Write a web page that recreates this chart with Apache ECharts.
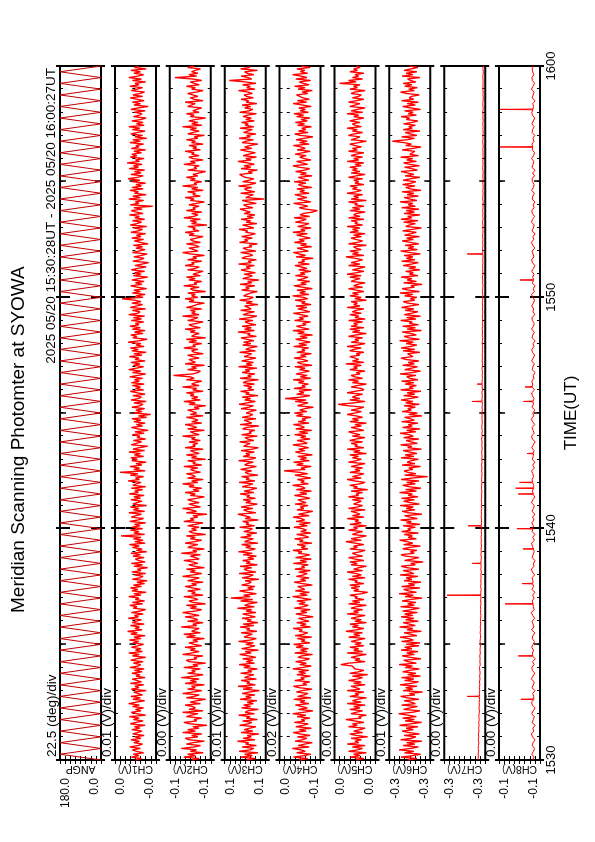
<!DOCTYPE html>
<html><head><meta charset="utf-8">
<script src="https://cdn.jsdelivr.net/npm/echarts@6/dist/echarts.min.js"></script>
<style>
html,body{margin:0;padding:0;background:#fff;width:595px;height:842px;overflow:hidden}
#chart{position:absolute;left:0;top:0;width:842px;height:595px;transform-origin:0 0;transform:translate(0,842px) rotate(-90deg);background:#fff}
</style></head><body><div id="chart"></div>
<script>
const mainTitle = 'Meridian Scanning Photomter at SYOWA';
const subTitle = '2025 05/20 15:30:28UT - 2025 05/20 16:00:27UT';
const timeAxisName = 'TIME(UT)';
const timeLabels = ['1530','1540','1550','1600'];
const panelNames = ['ANGP','CH1(V)','CH2(V)','CH3(V)','CH4(V)','CH5(V)','CH6(V)','CH7(V)','CH8(V)'];
const scaleLabels = ['22.5 (deg)/div','0.01 (V)/div','0.00 (V)/div','0.01 (V)/div','0.02 (V)/div','0.00 (V)/div','0.01 (V)/div','0.00 (V)/div','0.00 (V)/div'];
// axis ranges: ANGP in deg, channels in mV
const yMin = [0,-40,-140,60,-120,4,-340,-332,-132];
const yMax = [180,40,-108,140,40,36,-260,-300,-100];
const angpStepMin = 0.25;     // minutes between ANGP turning points
const fastStepMin = 0.0625;   // minutes between CH1-CH6 samples
const slowStepMin = 0.125;    // minutes between CH7-CH8 samples

const angp = [0,180,0,180,0,180,0,180,0,180,0,180,0,180,0,180,0,180,0,180,
0,180,0,180,0,180,0,180,0,180,0,180,0,180,0,180,0,180,0,180,
0,180,0,180,0,180,0,180,0,180,0,180,0,180,0,180,0,180,0,180,
0,180,0,180,0,180,0,180,0,180,0,180,0,180,0,180,0,180,0,180,
0,180,0,180,0,180,0,180,0,180,0,180,0,180,0,180,0,180,0,180,
0,180,0,180,0,180,0,180,0,180,0,180,0,180,0,180,0,180,0,180,0];

const ch1 = [0,-12,8,-7,4,-16,-2,6,-10,11,-5,-14,3,-8,9,-11,1,-17,5,-4,
-13,7,-9,2,-19,10,-1,-15,4,-7,12,-20,-3,8,-11,0,-16,6,-8,13,
-2,-18,5,-10,9,-14,-5,3,-21,8,-7,1,-16,10,-12,-3,6,-19,-1,-9,
7,-13,2,-17,11,-6,-10,4,-15,9,-2,-20,6,-8,13,-14,0,-11,8,-5,
-16,5,-7,12,-11,3,-19,9,-4,15,-13,1,-8,10,-17,6,-2,-12,14,-6,
2,-15,8,-9,-20,4,-3,11,-14,6,-18,0,-7,13,-11,3,-21,7,-5,10,
-12,4,-18,-3,-23,6,-9,-15,2,-20,7,-11,-4,-24,3,-14,8,-19,-6,0,
-17,5,-10,9,-22,-2,-13,6,-8,12,-19,1,-15,4,-11,28,-18,3,-7,10,
-14,7,-9,2,-20,11,-5,-16,8,-1,-12,13,-18,4,-7,10,-22,5,-3,-13,
9,-10,3,-17,12,-6,1,-14,8,-20,5,-2,-11,14,-8,0,-16,10,-5,30,
-19,3,-8,11,-13,-1,-21,7,-4,9,-16,2,-10,13,-18,5,-7,-24,8,-2,
-12,4,-20,-3,-9,6,-17,1,-25,-5,8,-14,-2,-19,3,-11,7,-22,-6,-30,
4,-13,-1,-18,7,-9,-15,3,-21,9,-6,-12,5,-19,-3,10,-16,0,-10,6,
-17,8,-8,2,-14,11,-5,-20,6,-11,13,-2,-16,4,-9,9,-19,1,-7,12,
-13,3,-21,7,-6,10,-17,-1,-11,14,-8,-23,5,-3,9,-15,2,-19,6,-10,
11,-7,0,-16,8,-12,4,-18,13,-5,-9,6,-20,10,-2,-14,7,-11,1,26,
-15,-1,-19,6,-10,3,-22,-4,9,-13,0,-17,7,-8,-24,4,-11,2,-18,8,
-4,-21,1,-13,-26,5,-9,-17,3,-12,-23,6,-7,-19,-1,-14,4,-25,-10,2,
-16,7,-11,-2,-20,9,-6,-14,4,-22,10,-3,-12,6,-18,1,-8,12,-15,-1,
8,-13,3,-34,10,-7,0,-16,13,-10,5,-21,2,-6,11,-15,7,-12,-1,-20,
6,-9,14,-4,-15,9,-11,2,-18,12,-6,4,-13,16,-8,0,-17,10,-3,7,
-12,3,-20,8,-7,-1,-16,11,-10,5,-22,1,-14,9,-4,-19,6,-9,13,-17,
-2,-15,7,-11,-21,4,-8,-13,2,-19,9,-5,-25,3,-10,6,-17,-3,10,-14,
5,-9,-18,8,-3,-14,11,-7,1,-20,6,-12,13,-5,-16,3,-10,9,-21,2,
-6];

const ch2 = [-125,-131,-119,-128,-122,-134,-124,-129,-117,-127,-132,-121,-126,-135,-123,-120,-130,-125,-133,-118,
-128,-122,-131,-126,-137,-124,-119,-129,-127,-133,-121,-125,-130,-118,-134,-123,-128,-126,-120,-132,
-124,-129,-136,-121,-127,-131,-118,-126,-133,-122,-128,-125,-135,-120,-129,-124,-131,-117,-127,-134,
-122,-128,-125,-132,-119,-130,-126,-136,-123,-121,-129,-127,-134,-118,-125,-131,-124,-128,-120,-133,
-127,-123,-130,-126,-135,-121,-128,-119,-132,-125,-124,-131,-117,-129,-126,-134,-122,-130,-127,-120,
-131,-125,-118,-128,-133,-124,-129,-121,-136,-126,-123,-130,-127,-119,-134,-125,-128,-122,-132,-126,
-120,-129,-125,-134,-122,-127,-131,-118,-126,-133,-124,-128,-121,-135,-127,-123,-130,-126,-119,-131,
-128,-124,-132,-117,-129,-126,-135,-122,-125,-130,-120,-127,-133,-124,-128,-121,-136,-126,-123,-129,
-125,-131,-122,-128,-134,-119,-127,-124,-130,-126,-137,-121,-129,-125,-118,-132,-127,-123,-131,-126,
-122,-129,-135,-124,-128,-120,-131,-126,-133,-123,-127,-118,-130,-125,-134,-122,-128,-126,-121,-132,
-127,-124,-130,-119,-133,-126,-128,-122,-136,-125,-129,-121,-131,-127,-124,-134,-120,-128,-126,-130,
-123,-132,-125,-128,-118,-131,-127,-124,-135,-122,-129,-126,-120,-133,-125,-130,-127,-121,-134,-124,
-129,-126,-122,-131,-127,-136,-123,-128,-119,-132,-125,-130,-124,-127,-121,-134,-126,-129,-118,-131,
-125,-128,-133,-121,-127,-124,-111,-126,-130,-132,-122,-129,-125,-135,-120,-128,-127,-123,-131,-126,
-122,-134,-127,-125,-130,-119,-128,-126,-133,-123,-129,-121,-136,-125,-127,-131,-124,-128,-120,-132,
-126,-123,-129,-134,-122,-127,-130,-118,-131,-125,-128,-124,-133,-121,-126,-129,-135,-123,-127,-120,
-130,-125,-128,-122,-136,-126,-124,-131,-119,-129,-127,-133,-123,-128,-121,-132,-126,-125,-134,-122,
-128,-131,-120,-127,-125,-133,-122,-129,-126,-135,-124,-118,-130,-127,-123,-131,-128,-121,-132,-126,
-124,-129,-134,-123,-127,-120,-131,-126,-128,-122,-137,-125,-129,-124,-132,-119,-127,-130,-125,-133,
-121,-128,-126,-131,-123,-129,-135,-124,-127,-120,-132,-126,-128,-122,-134,-125,-130,-118,-129,-127,
-133,-124,-128,-121,-130,-126,-125,-136,-122,-129,-127,-131,-119,-128,-124,-134,-126,-123,-131,-125,
-127,-120,-132,-126,-129,-123,-134,-125,-128,-121,-130,-127,-135,-122,-126,-131,-124,-129,-118,-133,
-125,-130,-123,-128,-136,-124,-127,-121,-131,-126,-129,-133,-122,-125,-128,-120,-134,-127,-124,-130,
-126,-122,-129,-134,-125,-128,-121,-131,-127,-124,-133,-126,-112,-129,-123,-130,-125,-128,-132,-122,
-127];

const ch3 = [97,80,109,86,101,75,112,90,83,106,78,99,93,115,81,104,88,96,73,108,
85,102,91,79,111,94,87,105,76,98,90,113,82,100,95,74,107,89,103,84,
96,77,110,88,99,81,106,92,72,104,86,114,80,97,91,108,78,101,94,83,
109,87,95,76,103,90,112,82,98,85,105,79,93,111,88,100,74,107,92,81,
99,84,113,89,78,102,95,86,108,77,97,91,110,83,104,75,96,88,106,80,
92,105,79,98,87,115,82,101,93,76,109,85,128,90,103,78,97,111,84,95,
81,107,94,88,100,73,106,91,84,112,79,96,102,87,110,76,98,90,105,83,
95,78,104,86,113,92,80,99,89,107,75,101,94,84,109,88,97,77,103,91,
86,111,82,98,93,105,74,100,90,87,114,79,96,103,85,108,92,76,99,89,
104,80,97,91,110,83,102,88,77,106,94,85,112,81,98,92,107,75,95,100,
87,109,93,78,101,96,84,113,89,79,104,91,99,82,108,86,74,103,97,90,
111,83,95,100,76,107,88,92,81,105,98,73,110,87,94,102,79,106,91,85,
98,90,78,108,93,84,112,96,80,101,89,106,75,99,92,109,83,95,87,103,
82,104,97,74,110,88,95,81,106,91,100,77,113,86,98,84,107,93,79,102,
94,87,111,80,99,92,76,105,89,103,83,97,108,78,95,90,114,82,101,88,
106,79,93,100,85,112,90,77,104,96,82,109,88,94,101,75,98,86,111,91,
84,103,97,89,76,107,92,99,81,110,87,95,73,105,93,86,102,80,96,108,
90,98,82,113,88,94,78,106,100,85,91,109,79,97,104,87,92,76,111,95,
101,86,107,91,80,99,95,112,83,93,105,77,98,89,108,84,96,81,102,90,
88,110,85,97,103,78,94,106,63,99,92,84,109,81,96,101,87,113,90,79,
105,92,83,100,97,111,86,94,76,108,89,102,82,95,114,88,99,78,104,93,
80,96,109,87,101,91,75,106,98,84,112,90,97,79,103,95,86,110,83,100,
94,107,82,99,88,104,96,78,111,92,85,101,89,106,77,98,93,108,84,97,
102,86,95,113,81,97,90,105,79,100,131,87,94,108,83,96,101,76,109,91,
93];

const ch4 = [-38,-70,-15,-55,-82,-27,-61,-44,-10,-76,-33,-58,-88,-21,-49,-67,-30,-80,-41,-13,
-64,-36,-85,-24,-52,-72,-18,-59,-45,-79,-29,-63,-11,-54,-90,-34,-69,-47,-22,-75,
-40,-60,-16,-83,-31,-56,-71,-26,-48,-87,-37,-14,-66,-51,-78,-20,-57,-43,-81,-28,
-62,-35,-74,-12,-50,-84,-39,-65,-23,-58,-77,-32,-46,-89,-19,-68,-42,-73,-25,-53,
-15,-79,-44,-60,-30,-86,-21,-55,-70,-37,-49,-13,-82,-41,-64,-27,-75,-52,-34,-91,
-57,-24,-67,-43,-80,-18,-53,-72,-36,-61,-28,-84,-47,-11,-69,-39,-77,-22,-59,-45,
-31,-88,-50,-17,-63,-42,-76,-26,-54,-68,-35,-81,-20,-58,-46,-73,-14,-66,-40,-85,
-23,-56,-78,-33,-48,-12,-71,-44,-62,-29,-87,-38,-52,-19,-74,-60,-27,-83,-42,-65,
-50,-16,-69,-37,-81,-25,-58,-45,-13,-76,-34,-63,-90,-28,-55,-41,-72,-21,-64,-47,
-32,-79,-54,-18,-67,-39,-85,-26,-60,-48,-11,-73,-43,-57,-30,-82,-51,-20,-70,-36,
22,-61,-44,-84,-27,-53,-15,-77,-40,-66,-31,-88,-49,-22,-59,-35,-74,-46,-12,-68,
-55,-29,-80,-42,-63,-19,-71,-37,-86,-24,-57,-45,-14,-75,-33,-62,-48,-83,-26,-52,
-18,-67,-39,-58,-92,-30,-49,-72,-21,-64,18,-44,-79,-27,-55,-36,-86,-16,-61,-47,
-73,-34,-56,-13,-82,-41,-68,-25,-50,-77,-38,-60,-20,-87,-45,-29,-71,-53,-17,-64,
-42,-85,-28,-59,-47,-74,-15,-66,-35,-80,-52,-23,-69,-40,-89,-31,-57,-12,-76,-48,
-26,-63,-50,-81,-19,-54,-37,-72,-44,-14,-78,-58,-32,-67,-24,-84,-46,-61,-21,-70,
-53,-11,-75,-39,-62,-28,-88,-49,-16,-65,-43,-79,-30,-56,-71,-22,-60,-41,-83,-35,
-68,-45,-20,-77,-33,-58,-47,-91,-25,-62,-38,-14,-73,-51,-29,-86,-42,-66,-18,-57,
-36,-80,-54,-27,-69,-12,-60,-43,-84,-31,-57,-75,-22,-48,-65,-17,-78,-40,-53,-89,
-108,-62,-37,-71,-49,-15,-82,-56,-30,-67,-44,-20,-76,-39,-58,-28,-86,-46,-34,-63,
-17,-74,-52,-33,-87,-41,-65,-23,-59,-78,-36,-12,-70,-48,-27,-83,-55,-39,-64,-21,
-50,-80,-29,-61,-45,-14,-76,-38,-68,-25,-57,-90,-42,-19,-72,-34,-63,-47,-85,-31,
-58,-22,-69,-43,-79,-27,-54,-16,-73,-40,-62,-35,-84,-49,-13,-66,-30,-77,-51,-44,
-26,-71,-48,-88,-32,-60,-19,-75,-53,-37,-82,-24,-67,-45,-11,-70,-41,-59,-28,-80,
-45];

const ch5 = [19,13,24,16,21,11,25,18,14,22,12,26,17,20,15,23,10,19,24,14,
21,16,12,25,18,22,13,20,27,15,17,11,23,19,14,24,16,21,12,26,
15,22,18,11,24,17,20,13,26,16,19,23,12,21,15,25,18,14,22,10,
24,17,13,20,19,22,31,25,12,20,16,23,18,11,26,14,21,17,24,13,
20,15,23,18,12,25,16,21,14,27,19,13,22,17,24,11,20,15,23,18,
12,26,17,21,14,23,19,11,25,16,22,13,20,18,24,15,10,21,17,23,
16,24,13,20,18,25,12,22,15,19,26,14,21,17,11,23,18,24,13,20,
25,14,19,22,16,12,24,18,21,13,20,27,15,23,17,11,22,19,14,25,
18,21,11,24,15,20,17,26,13,22,16,19,23,12,25,18,14,21,20,15,
22,13,25,17,19,14,23,10,21,18,24,16,12,20,26,15,22,17,13,24,
16,20,14,23,18,12,25,19,15,22,17,24,11,21,16,26,13,20,18,23,
14,24,19,12,22,16,21,25,13,18,23,15,20,11,24,17,22,14,19,26,
20,15,23,17,13,25,33,21,12,24,16,22,19,14,26,20,13,15,23,18,
11,22,17,25,14,20,23,16,19,12,24,18,21,15,27,13,22,17,20,24,
16,19,13,24,21,15,26,18,12,23,17,20,14,25,19,11,22,16,24,13,
23,18,21,14,25,12,20,17,24,15,22,19,13,26,16,21,18,23,11,20,
15,24,17,22,13,19,25,14,21,18,12,23,20,16,24,15,26,19,13,22,
21,12,25,16,23,18,14,20,27,13,22,17,24,15,19,21,11,25,18,14,
19,23,15,21,12,24,17,22,16,26,14,20,18,23,13,25,16,21,19,12,
24,16,22,13,20,18,25,11,23,17,21,14,26,19,15,22,18,24,13,20,
17,21,14,25,19,12,23,16,22,18,24,15,20,13,26,17,21,14,23,19,
13,25,18,22,15,20,24,17,11,23,19,16,25,21,14,22,18,26,15,20,
22,16,24,19,13,21,17,26,14,23,18,12,24,20,16,25,19,13,22,17,
15,23,20,12,24,18,21,16,32,19,25,14,22,17,20,13,24,18,21,16,
19];

const ch6 = [-296,-314,-283,-305,-321,-290,-308,-279,-301,-317,-287,-310,-294,-324,-282,-303,-312,-289,-319,-298,
-285,-307,-293,-316,-280,-302,-323,-291,-309,-286,-313,-297,-278,-305,-320,-288,-300,-315,-284,-311,
-303,-289,-318,-295,-282,-310,-299,-325,-287,-306,-292,-314,-281,-302,-317,-290,-308,-284,-321,-296,
-312,-286,-300,-319,-291,-305,-279,-313,-297,-288,-322,-301,-285,-309,-294,-316,-283,-304,-290,-318,
-293,-320,-284,-307,-298,-281,-314,-302,-289,-323,-295,-306,-280,-311,-299,-287,-317,-292,-308,-283,
-306,-290,-315,-286,-303,-319,-282,-309,-296,-312,-285,-301,-324,-291,-307,-279,-313,-297,-288,-320,
-284,-310,-297,-322,-289,-304,-293,-316,-281,-308,-300,-287,-318,-295,-283,-311,-302,-326,-290,-305,
-318,-292,-283,-309,-301,-314,-286,-299,-321,-288,-306,-295,-280,-313,-297,-305,-289,-317,-284,-302,
-296,-311,-287,-320,-294,-303,-282,-315,-300,-290,-324,-298,-285,-310,-293,-307,-281,-319,-301,-288,
-309,-284,-316,-297,-305,-280,-313,-292,-322,-299,-286,-311,-294,-318,-283,-304,-335,-290,-312,-296,
-289,-306,-298,-321,-285,-310,-295,-302,-317,-283,-308,-291,-314,-300,-287,-323,-296,-304,-282,-315,
-302,-293,-318,-288,-307,-299,-281,-312,-294,-320,-286,-305,-297,-316,-284,-309,-301,-290,-324,-298,
-315,-285,-303,-296,-311,-289,-319,-292,-306,-283,-300,-317,-288,-310,-295,-322,-282,-307,-299,-313,
-291,-308,-284,-316,-300,-294,-312,-281,-305,-321,-290,-303,-315,-286,-309,-297,-318,-293,-283,-306,
-304,-296,-320,-287,-310,-283,-301,-314,-293,-307,-280,-319,-298,-289,-313,-302,-285,-323,-295,-311,
-286,-317,-299,-305,-282,-312,-294,-321,-289,-303,-316,-291,-308,-284,-300,-318,-296,-287,-310,-301,
-314,-290,-306,-281,-319,-297,-285,-309,-302,-324,-288,-313,-295,-304,-283,-316,-299,-307,-292,-320,
-298,-312,-287,-303,-317,-284,-310,-293,-306,-289,-321,-300,-282,-315,-297,-308,-291,-318,-301,-285,
-307,-294,-319,-290,-302,-313,-286,-305,-323,-292,-299,-311,-288,-316,-283,-304,-296,-320,-289,-309,
-293,-318,-284,-311,-297,-306,-281,-314,-300,-289,-317,-295,-308,-285,-322,-301,-292,-310,-286,-303,
-312,-287,-301,-320,-291,-308,-296,-283,-315,-304,-290,-319,-299,-288,-313,-294,-306,-282,-317,-300,
-297,-310,-285,-306,-322,-292,-303,-289,-266,-295,-309,-284,-314,-301,-291,-320,-287,-305,-298,-311,
-288,-305,-316,-293,-300,-283,-313,-297,-307,-290,-321,-302,-286,-311,-295,-317,-284,-308,-299,-303,
-319,-294,-282,-309,-298,-315,-290,-304,-287,-312,-301,-296,-320,-285,-306,-293,-314,-289,-302,-316,
-299];

const ch7 = [-326.4,-326.7,-326.5,-326.9,-326.6,-326.8,-327.1,-326.7,-327.0,-326.8,-327.2,-326.9,-327.3,-327.0,-327.4,-327.1,-327.3,-327.6,-327.2,-327.5,
-327.3,-327.7,-327.6,-327.5,-327.8,-327.4,-327.9,-327.6,-328.0,-327.7,-328.1,-327.8,-327.6,-328.2,-327.9,-328.1,-327.8,-328.3,-328.0,-328.2,
-328.4,-328.0,-328.3,-328.5,-328.1,-328.4,-328.2,-328.6,-328.3,-328.5,-328.7,-328.4,-328.6,-328.3,-328.8,-328.5,-328.7,-328.7,-328.6,-328.9,
-328.5,-328.8,-328.6,-328.9,-328.7,-329.0,-328.6,-328.9,-328.8,-328.8,-329.1,-328.7,-329.0,-328.8,-329.2,-328.9,-329.1,-328.8,-329.2,-329.0,
-329.2,-329.1,-329.1,-329.3,-328.9,-329.2,-329.0,-329.4,-329.1,-329.3,-329.0,-329.4,-329.2,-329.5,-329.1,-329.3,-329.5,-329.2,-329.4,-329.6,
-329.3,-329.5,-329.2,-329.6,-329.4,-329.7,-329.3,-329.5,-329.7,-329.4,-329.6,-329.3,-329.7,-329.5,-329.8,-329.4,-329.6,-329.8,-329.5,-329.7,
-329.5,-329.8,-329.6,-329.9,-329.7,-329.6,-329.8,-329.5,-329.9,-329.7,-329.7,-329.6,-329.9,-329.7,-330.0,-329.6,-329.8,-330.0,-329.7,-329.9,
-329.7,-330.0,-329.8,-330.1,-329.7,-329.9,-330.1,-329.8,-330.0,-329.7,-330.1,-329.9,-330.2,-329.8,-330.0,-330.2,-329.9,-330.1,-329.8,-330.2,
-330.0,-330.2,-329.9,-330.1,-330.3,-330.0,-330.2,-329.9,-330.3,-330.1,-330.2,-330.0,-330.3,-330.1,-330.4,-330.2,-330.2,-330.0,-330.3,-330.1,
-330.3,-330.0,-330.2,-330.4,-330.1,-330.3,-330.0,-330.4,-330.2,-330.3,-330.1,-330.4,-330.2,-330.5,-330.1,-330.3,-330.4,-330.2,-330.5,-330.3,
-330.1,-330.4,-330.2,-330.5,-330.3,-330.1,-330.4,-330.2,-330.5,-330.3,-330.4,-330.2,-330.5,-330.3,-330.1,-330.4,-330.2,-330.5,-330.3,-330.4,
-330.2,-330.5,-330.3,-330.4,-330.1,-330.5,-330.3,-330.2,-330.4,-330.6,-330.3,-330.5,-330.2,-330.4,-330.3,-330.5,-330.2,-330.4,-330.6,-330.3,
-330.4];
const ch7SpikeMin = [2.75, 7.125, 8.5, 10.125, 15.5, 16.25, 21.875];
const ch7SpikeVal = [-318.0, -302.3, -321.9, -318.7, -321.9, -325.8, -318.0];

const ch8 = [-126.2,-127.4,-125.6,-126.9,-127.8,-125.9,-126.6,-128.0,-126.1,-125.3,-127.2,-126.4,-128.3,-125.8,-126.9,-127.5,-125.5,-126.7,-128.1,-126.0,
-125.4,-127.1,-127.1,-126.3,-128.2,-125.7,-126.8,-127.6,-125.2,-126.5,-127.9,-126.0,-125.6,-127.3,-126.2,-128.4,-126.3,-126.1,-127.0,-125.5,
-126.8,-127.7,-125.9,-126.4,-128.0,-125.4,-127.2,-126.6,-125.8,-127.9,-126.3,-125.1,-127.5,-126.7,-126.6,-125.9,-127.4,-126.2,-128.1,-125.6,
-127.0,-126.4,-126.5,-125.7,-127.8,-126.1,-125.3,-127.3,-126.9,-128.2,-125.8,-126.6,-127.5,-126.9,-126.0,-125.4,-127.7,-126.3,-128.0,-125.9,
-126.5,-126.8,-125.6,-127.4,-126.2,-128.1,-125.7,-126.9,-127.6,-125.3,-126.5,-127.9,-126.8,-126.0,-127.0,-127.2,-126.2,-125.8,-127.0,-126.4,
-125.5,-127.7,-126.3,-128.0,-125.9,-126.7,-126.9,-127.3,-125.6,-126.8,-128.2,-126.1,-125.4,-127.5,-126.6,-125.8,-127.9,-126.2,-125.3,-127.1,
-126.4,-128.0,-125.7,-126.9,-126.6,-127.4,-126.0,-125.5,-127.8,-126.0,-126.3,-125.6,-127.2,-126.8,-128.1,-125.9,-126.5,-127.6,-125.4,-126.7,
-127.9,-126.1,-125.6,-127.3,-126.6,-128.2,-125.8,-126.4,-127.7,-125.3,-126.9,-127.5,-126.0,-125.7,-128.0,-126.5,-127.1,-125.5,-126.8,-127.8,
-126.2,-125.4,-127.6,-126.7,-128.1,-125.9,-127.0,-126.3,-127.4,-125.6,-126.9,-128.0,-126.1,-125.5,-127.2,-126.6,-125.8,-127.9,-126.4,-125.3,
-127.1,-126.5,-128.2,-125.7,-126.8,-127.5,-125.4,-126.2,-127.8,-126.0,-125.6,-127.3,-126.7,-128.0,-125.9,-126.4,-127.6,-125.5,-126.9,-127.4,
-126.1,-125.8,-127.7,-126.3,-128.1,-125.6,-126.6,-127.2,-125.4,-126.9,-127.8,-126.0,-126.3,-125.7,-127.3,-126.5,-128.0,-125.9,-126.2,-127.5,
-125.6,-126.8,-127.9,-126.1,-125.5,-126.5,-127.0,-126.4,-128.2,-125.8,-126.7,-127.4,-125.3,-126.5,-127.8,-126.0,-125.7,-127.2,-126.3,-125.9,
-126.6];
const ch8SpikeMin = [2.625, 4.5, 6.75, 7.625, 9.125, 10.0, 11.5, 11.75, 12.0, 13.25, 15.5, 16.125, 20.75, 26.5, 28.125];
const ch8SpikeVal = [-117.0, -115.0, -104.7, -118.0, -118.7, -114.0, -115.0, -113.0, -116.0, -121.9, -119.0, -120.3, -116.4, -100.8, -100.8];

// ---------- build series data ----------
const SPIKE_HALF_WIDTH = 0.015; // minutes
function uniform(vals, step) { return vals.map((v, k) => [k * step, v]); }
function withSpikes(vals, step, spikeMin, spikeVal) {
  const m = new Map(spikeMin.map((t, j) => [Math.round(t / step), spikeVal[j]]));
  const out = [];
  vals.forEach((v, k) => {
    const t = k * step;
    if (m.has(k)) { out.push([t - SPIKE_HALF_WIDTH, v], [t, m.get(k)], [t + SPIKE_HALF_WIDTH, v]); }
    else out.push([t, v]);
  });
  return out;
}
const panelData = [
  uniform(angp, angpStepMin),
  uniform(ch1, fastStepMin), uniform(ch2, fastStepMin), uniform(ch3, fastStepMin),
  uniform(ch4, fastStepMin), uniform(ch5, fastStepMin), uniform(ch6, fastStepMin),
  withSpikes(ch7, slowStepMin, ch7SpikeMin, ch7SpikeVal),
  withSpikes(ch8, slowStepMin, ch8SpikeMin, ch8SpikeVal)
];
const lineWidths = [1, 1.35, 1.35, 1.35, 1.35, 1.35, 1.35, 1, 1];

// ---------- layout / style ----------
const FONT = '"Liberation Sans", Arial, Helvetica, sans-serif';
const PL = 82, PW = 694, TOP0 = 60, PITCH = 54.875, PH = 41;
const BLACK = '#000';

const grids = [], xAxes = [], yAxes = [], series = [], titles = [], graphics = [];

titles.push({text: mainTitle, left: 229, top: 9, padding: 0,
  textStyle: {fontSize: 19, fontWeight: 'normal', fontFamily: FONT, color: BLACK, lineHeight: 19}});
titles.push({text: subTitle, right: 68, top: 45, padding: 0,
  textStyle: {fontSize: 13.5, fontWeight: 'normal', fontFamily: FONT, color: BLACK, lineHeight: 13.5}});
titles.push({text: timeAxisName, left: 429, textAlign: 'center', top: 563, padding: 0,
  textStyle: {fontSize: 17, fontWeight: 'normal', fontFamily: FONT, color: BLACK, lineHeight: 17}});

for (let i = 0; i < 9; i++) {
  const top = TOP0 + PITCH * i;
  const isLast = i === 8;
  grids.push({left: PL, width: PW, top: top, height: PH, show: true,
    borderColor: BLACK, borderWidth: 2, backgroundColor: 'transparent'});
  titles.push({text: scaleLabels[i], left: 85, top: top - 14.25, padding: 0,
    textStyle: {fontSize: 13.5, fontWeight: 'normal', fontFamily: FONT, color: BLACK, lineHeight: 13.5}});
  graphics.push({type: 'text', x: 73, y: top + PH / 2, rotation: Math.PI / 2, silent: true,
    style: {text: panelNames[i], fill: BLACK, font: '10.5px ' + FONT,
      align: 'center', verticalAlign: 'middle', textAlign: 'center', textVerticalAlign: 'middle'}});

  const xBase = {type: 'value', gridIndex: i, min: 0, max: 30,
    splitLine: {show: false}, axisLine: {show: false}, axisLabel: {show: false}};
  let mainX = -1;
  ['bottom', 'top'].forEach(pos => {
    const idx = xAxes.length;
    xAxes.push(Object.assign({}, xBase, {position: pos, interval: 10,
      axisTick: {show: true, inside: true, length: 10, lineStyle: {color: BLACK, width: 2}},
      minorTick: {show: true, splitNumber: 10, length: 3, lineStyle: {color: BLACK, width: 1}},
      axisLabel: (pos === 'bottom' && isLast) ? {show: true, margin: 5, fontSize: 13, fontFamily: FONT, color: BLACK,
        formatter: v => timeLabels[Math.round(v / 10)] || ''} : {show: false}}));
    if (pos === 'bottom') mainX = idx;
    xAxes.push(Object.assign({}, xBase, {position: pos, interval: 5,
      axisTick: {show: true, inside: true, length: 6, lineStyle: {color: BLACK, width: 1.5}}}));
    xAxes.push(Object.assign({}, xBase, {position: pos, interval: 10,
      axisTick: {show: true, inside: false, length: 4, lineStyle: {color: BLACK, width: 2}}}));
  });

  const lo = yMin[i], hi = yMax[i];
  const fmt = (v) => {
    if (Math.abs(v - lo) > 1e-6 && Math.abs(v - hi) > 1e-6) return '';
    return i === 0 ? v.toFixed(1) : (v / 1000).toFixed(1);
  };
  const yBase = {type: 'value', gridIndex: i, min: lo, max: hi, interval: (hi - lo) / 8,
    splitLine: {show: false}, axisLine: {show: false},
    axisTick: {show: true, inside: true, length: 4, lineStyle: {color: BLACK, width: 1}}};
  const mainY = yAxes.length;
  yAxes.push(Object.assign({}, yBase, {position: 'left',
    axisLabel: {show: true, margin: 18, fontSize: 12, fontFamily: FONT, color: BLACK, formatter: fmt,
      verticalAlignMinLabel: 'bottom', verticalAlignMaxLabel: 'top'}}));
  yAxes.push(Object.assign({}, yBase, {position: 'right', axisLabel: {show: false}}));

  series.push({type: 'line', xAxisIndex: mainX, yAxisIndex: mainY, data: panelData[i],
    showSymbol: false, symbol: 'none', silent: true, animation: false, clip: true,
    lineStyle: {color: i === 0 ? '#c00000' : '#ff0000', width: lineWidths[i]}});
}

const chart = echarts.init(document.getElementById('chart'), null, {renderer: 'canvas', width: 842, height: 595});
chart.setOption({animation: false, backgroundColor: '#fff', title: titles, grid: grids,
  xAxis: xAxes, yAxis: yAxes, series: series, graphic: graphics});
</script></body></html>
